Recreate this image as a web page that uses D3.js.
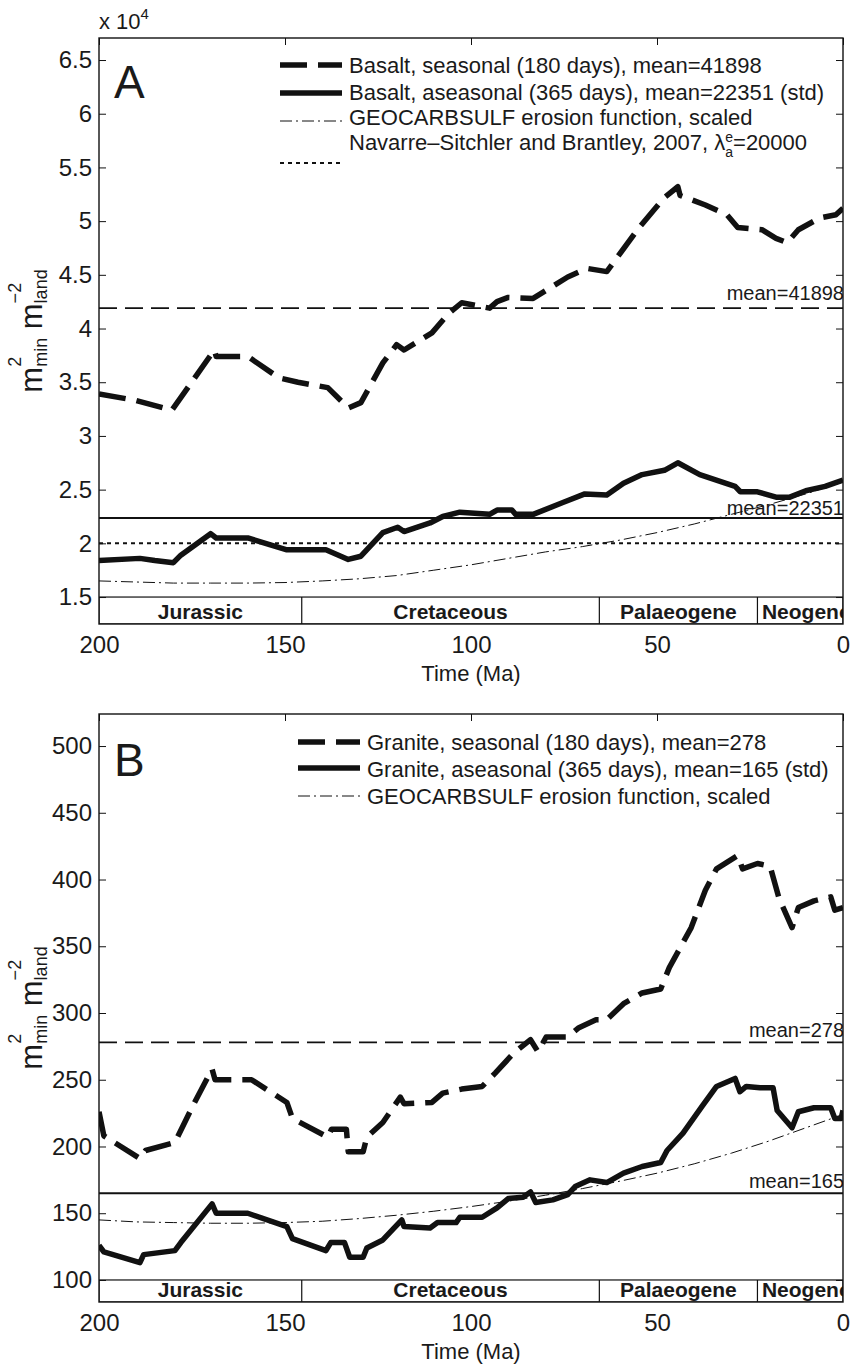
<!DOCTYPE html>
<html>
<head>
<meta charset="utf-8">
<script src="https://cdn.jsdelivr.net/npm/d3@7"></script>
<style>
  body { margin: 0; background: #fff; }
  text { font-family: 'Liberation Sans', Arial, Helvetica, sans-serif; fill: #1a1a1a; }
</style>
</head>
<body>
<script>
'use strict';

// --- data (ages in Ma) ---
const xTicks = [200, 150, 100, 50, 0];
const periodNames = ['Jurassic', 'Cretaceous', 'Palaeogene', 'Neogene'];
const periodBounds = [200, 145.5, 65.5, 23, 0];

// panel A, values in units of 10^4
const basaltTicks = [1.5, 2, 2.5, 3, 3.5, 4, 4.5, 5, 5.5, 6, 6.5];
const basaltSeasonalAge = [200, 190, 180.4, 169, 168.5, 160, 151.6, 146.5, 138.5, 133, 129.6, 123.7, 120, 118, 110.5, 106, 102.5, 95, 93, 90, 83.3, 74, 68.8, 63.5, 54.8, 48, 44.4, 43.8, 37, 31.2, 28.3, 21.8, 18, 15, 12, 6.2, 1.9, 0];
const basaltSeasonal = [3.39, 3.33, 3.24, 3.80, 3.74, 3.74, 3.54, 3.50, 3.45, 3.26, 3.31, 3.68, 3.85, 3.80, 3.96, 4.14, 4.24, 4.19, 4.25, 4.29, 4.28, 4.48, 4.56, 4.53, 4.94, 5.22, 5.32, 5.24, 5.15, 5.06, 4.94, 4.92, 4.84, 4.80, 4.92, 5.03, 5.06, 5.12];
const basaltAseasonalAge = [200, 189, 185, 180, 178, 170, 168.5, 160, 149.5, 139, 133, 129.6, 123.7, 119.7, 118, 111, 107.6, 103, 95, 93, 89, 88, 83.3, 75.3, 69.4, 63.5, 59, 54, 48, 44.4, 38.5, 29, 27.6, 23, 18, 14.3, 10, 4.8, 0];
const basaltAseasonal = [1.84, 1.86, 1.84, 1.82, 1.89, 2.09, 2.05, 2.05, 1.94, 1.94, 1.85, 1.88, 2.10, 2.15, 2.11, 2.19, 2.25, 2.29, 2.27, 2.31, 2.31, 2.27, 2.27, 2.38, 2.46, 2.45, 2.56, 2.64, 2.68, 2.75, 2.64, 2.53, 2.48, 2.48, 2.43, 2.43, 2.49, 2.53, 2.59];
const erosionAge = [200, 190, 180, 170, 160, 150, 140, 130, 120, 110, 100, 90, 80, 70, 60, 50, 40, 30, 20, 10, 0];
const basaltErosion = [1.65, 1.64, 1.63, 1.63, 1.63, 1.635, 1.65, 1.67, 1.70, 1.75, 1.80, 1.86, 1.92, 1.97, 2.03, 2.10, 2.18, 2.27, 2.36, 2.46, 2.57];
const basaltMeans = [41898, 22351];
const navarreValue = 20000;

// panel B
const graniteTicks = [100, 150, 200, 250, 300, 350, 400, 450, 500];
const graniteSeasonalAge = [200, 198.7, 189, 187.5, 179.6, 174.5, 169.6, 168.8, 159, 149.5, 148, 138.5, 137.5, 133.5, 133, 129, 128, 123.7, 119, 118, 110.5, 107.6, 102.5, 97, 93.5, 88.5, 84, 82, 79.8, 74, 71, 66.4, 63.5, 59, 54, 49, 46.7, 40.8, 37, 34, 28.3, 27, 23, 19.6, 17.2, 13.7, 12, 7.8, 3.3, 2.2, 0];
const graniteSeasonal = [226, 208, 191, 197, 203, 232, 258, 250, 250, 233, 221, 207, 213, 213, 196, 196, 207, 218, 237, 232, 233, 240, 243, 245, 255, 270, 280, 271, 282, 282, 289, 295, 295, 307, 315, 318, 334, 364, 392, 408, 418, 408, 412, 410, 386, 364, 379, 384, 387, 377, 379];
const graniteAseasonalAge = [200, 198.7, 189, 188, 179.6, 178, 169.6, 168.5, 160, 149.5, 148, 139, 137.7, 134, 132.6, 129, 128, 123.7, 118.6, 118, 111, 109, 104, 103, 97, 93, 90, 86, 84, 82.6, 78, 74, 72, 68, 63.5, 59, 54, 49, 47.3, 43, 37.9, 34, 29, 27.7, 26, 22.3, 18.8, 17.7, 13.7, 12, 7.8, 3.3, 2.2, 0.5, 0];
const graniteAseasonal = [126, 121, 113, 119, 122, 128, 157, 150, 150, 140, 131, 122, 128, 128, 117, 117, 124, 130, 145, 140, 139, 143, 143, 147, 147, 154, 161, 162, 166, 158, 160, 164, 170, 175, 173, 180, 185, 188, 197, 210, 230, 245, 251, 241, 245, 244, 244, 227, 214, 226, 229, 229, 221, 221, 227];
const graniteErosion = [145, 143.5, 143, 142.5, 142.5, 143, 144, 146, 148.5, 151.5, 155, 159, 163.5, 168.5, 174, 180, 187, 195, 204, 214, 224];
const graniteMeans = [278, 165];

const basaltLegend = ['Basalt, seasonal (180 days), mean=41898', 'Basalt, aseasonal (365 days), mean=22351 (std)', 'GEOCARBSULF erosion function, scaled', 'Navarre\u2013Sitchler and Brantley, 2007, \u03bb'];
const graniteLegend = ['Granite, seasonal (180 days), mean=278', 'Granite, aseasonal (365 days), mean=165 (std)', 'GEOCARBSULF erosion function, scaled'];

// --- line styles ---
const ink = '#111';
const styles = {
  seasonal:  { w: 5.5, dash: '27,11' },
  aseasonal: { w: 5.5, dash: null },
  erosion:   { w: 1,   dash: '12,4,2,4' },
  dotted:    { w: 2,   dash: '4,4' },
  meanDash:  { w: 1.8, dash: '18,8' },
  meanSolid: { w: 2,   dash: null }
};

const svg = d3.select('body').append('svg')
    .attr('width', 852)
    .attr('height', 1364);

function styled(sel, s) {
  return sel.attr('fill', 'none')
      .attr('stroke', ink)
      .attr('stroke-width', s.w)
      .attr('stroke-dasharray', s.dash)
      .attr('stroke-linejoin', 'round');
}

function drawPanel(p) {
  const x = d3.scaleLinear().domain([200, 0]).range([p.left, p.right]);
  const y = d3.scaleLinear().domain(p.yDomain).range([p.bottom, p.top]);
  const g = svg.append('g');

  g.append('clipPath').attr('id', p.id + '-clip')
    .append('rect')
      .attr('x', p.left).attr('y', p.top)
      .attr('width', p.right - p.left).attr('height', p.bottom - p.top);

  const plot = g.append('g').attr('clip-path', `url(#${p.id}-clip)`);
  const line = d3.line().x(d => x(d[0])).y(d => y(d[1]));

  // horizontal reference lines
  p.hlines.forEach(h => {
    styled(plot.append('line'), styles[h.style])
        .attr('x1', p.left).attr('x2', p.right)
        .attr('y1', y(h.value)).attr('y2', y(h.value));
    if (h.label) {
      plot.append('text')
          .attr('x', p.right + 1)
          .attr('y', y(h.value) - h.lift)
          .attr('text-anchor', 'end')
          .style('font-size', '20px')
          .text(h.label);
    }
  });

  // curves
  p.series.forEach(s => {
    styled(plot.append('path'), styles[s.style])
        .datum(d3.zip(s.age, s.vals))
        .attr('d', line);
  });

  // geological period bar
  const barTop = y(p.barValue);
  plot.append('rect')
      .attr('x', p.left).attr('y', barTop)
      .attr('width', p.right - p.left).attr('height', p.bottom - barTop)
      .attr('fill', '#fff').attr('stroke', ink).attr('stroke-width', 1.2);
  plot.selectAll('.sep')
    .data(periodBounds.slice(1, -1))
    .enter().append('line')
      .attr('x1', d => x(d)).attr('x2', d => x(d))
      .attr('y1', barTop).attr('y2', p.bottom)
      .attr('stroke', ink).attr('stroke-width', 1.2);
  plot.selectAll('.period')
    .data(periodNames)
    .enter().append('text')
      .attr('x', (d, i) => x((periodBounds[i] + periodBounds[i + 1]) / 2) + (i === 3 ? 6 : 0))
      .attr('y', p.bottom - 5)
      .attr('text-anchor', 'middle')
      .style('font-size', '21px')
      .style('font-weight', 'bold')
      .text(d => d);

  // axes, ticks pointing inward as in the original
  g.append('g')
      .attr('transform', `translate(${p.left},0)`)
      .call(d3.axisLeft(y).tickValues(p.yTicks).tickSize(-7).tickSizeOuter(0).tickPadding(7).tickFormat(d => String(d)));
  g.append('g')
      .attr('transform', `translate(${p.right},0)`)
      .call(d3.axisRight(y).tickValues(p.yTicks).tickSize(-7).tickSizeOuter(0).tickFormat(''));
  g.append('g')
      .attr('transform', `translate(0,${p.top})`)
      .call(d3.axisTop(x).tickValues(xTicks).tickSize(-7).tickSizeOuter(0).tickFormat(''));
  g.append('g')
      .attr('transform', `translate(0,${p.bottom})`)
      .call(d3.axisBottom(x).tickValues(xTicks).tickSize(0).tickPadding(12).tickFormat(d => String(d)));
  g.selectAll('.domain').remove();
  g.selectAll('.tick line').attr('stroke', ink);
  g.selectAll('.tick text')
      .attr('fill', '#1a1a1a')
      .style('font-size', '24px')
      .style('font-family', "'Liberation Sans', Arial, sans-serif");

  g.append('rect')
      .attr('x', p.left).attr('y', p.top)
      .attr('width', p.right - p.left).attr('height', p.bottom - p.top)
      .attr('fill', 'none').attr('stroke', ink).attr('stroke-width', 1.4);

  // axis titles
  g.append('text')
      .attr('x', (p.left + p.right) / 2)
      .attr('y', p.bottom + 57)
      .attr('text-anchor', 'middle')
      .style('font-size', '22px')
      .text('Time (Ma)');

  const yl = g.append('text')
      .attr('transform', `translate(42,${(p.top + p.bottom) / 2}) rotate(-90)`)
      .attr('text-anchor', 'middle');
  const part = (txt, size, dx, dy) => yl.append('tspan')
      .style('font-size', size + 'px').attr('dx', dx).attr('dy', dy).text(txt);
  part('m', 31, 0, 0);
  const s1 = part('2', 18, 0, -21);
  part('min', 18, -s1.node().getComputedTextLength(), 26);
  part('\u00a0m', 31, 0, -5);
  const s2 = part('\u22122', 18, 0, -21);
  part('land', 18, -s2.node().getComputedTextLength(), 26);

  // panel letter
  g.append('text')
      .attr('x', p.left + 15)
      .attr('y', p.top + p.letterDrop)
      .style('font-size', '46px')
      .text(p.letter);

  // legend
  const lg = g.append('g');
  p.legend.forEach(item => {
    styled(lg.append('line'), styles[item.style])
        .attr('x1', p.legendX).attr('x2', p.legendX + 62)
        .attr('y1', item.sy).attr('y2', item.sy);
    const t = lg.append('text')
        .attr('x', p.legendX + 69)
        .attr('y', item.ty)
        .style('font-size', '22px');
    t.append('tspan').text(item.label);
    if (item.lambda) {
      const e = t.append('tspan').style('font-size', '14px').attr('dy', -8).text('e');
      t.append('tspan').style('font-size', '14px')
          .attr('dx', -e.node().getComputedTextLength()).attr('dy', 15).text('a');
      t.append('tspan').style('font-size', '22px').attr('dy', -7).text('=' + item.lambda);
    }
  });

  return g;
}

drawPanel({
  id: 'a', letter: 'A', letterDrop: 60,
  left: 99, right: 843, top: 38, bottom: 624,
  yDomain: [1.249, 6.705], yTicks: basaltTicks, barValue: 1.5,
  hlines: [
    { value: basaltMeans[0] / 1e4, style: 'meanDash', label: 'mean=' + basaltMeans[0], lift: 8 },
    { value: basaltMeans[1] / 1e4, style: 'meanSolid', label: 'mean=' + basaltMeans[1], lift: 3 },
    { value: navarreValue / 1e4, style: 'dotted' }
  ],
  series: [
    { age: erosionAge, vals: basaltErosion, style: 'erosion' },
    { age: basaltSeasonalAge, vals: basaltSeasonal, style: 'seasonal' },
    { age: basaltAseasonalAge, vals: basaltAseasonal, style: 'aseasonal' }
  ],
  legendX: 280,
  legend: [
    { label: basaltLegend[0], style: 'seasonal', sy: 65, ty: 73 },
    { label: basaltLegend[1], style: 'aseasonal', sy: 93, ty: 100 },
    { label: basaltLegend[2], style: 'erosion', sy: 121, ty: 125 },
    { label: basaltLegend[3], style: 'dotted', sy: 163, ty: 150, lambda: navarreValue }
  ]
});

// multiplier above panel A
svg.append('text')
    .attr('x', 99).attr('y', 29)
    .style('font-size', '22px')
    .text('x 10')
  .append('tspan')
    .style('font-size', '15px').attr('dy', -10).text('4');

drawPanel({
  id: 'b', letter: 'B', letterDrop: 62,
  left: 99, right: 843, top: 714, bottom: 1302,
  yDomain: [83.5, 524], yTicks: graniteTicks, barValue: 100,
  hlines: [
    { value: graniteMeans[0], style: 'meanDash', label: 'mean=' + graniteMeans[0], lift: 5 },
    { value: graniteMeans[1], style: 'meanSolid', label: 'mean=' + graniteMeans[1], lift: 5 }
  ],
  series: [
    { age: erosionAge, vals: graniteErosion, style: 'erosion' },
    { age: graniteSeasonalAge, vals: graniteSeasonal, style: 'seasonal' },
    { age: graniteAseasonalAge, vals: graniteAseasonal, style: 'aseasonal' }
  ],
  legendX: 298,
  legend: [
    { label: graniteLegend[0], style: 'seasonal', sy: 742, ty: 750 },
    { label: graniteLegend[1], style: 'aseasonal', sy: 768, ty: 777 },
    { label: graniteLegend[2], style: 'erosion', sy: 796, ty: 804 }
  ]
});
</script>
</body>
</html>
